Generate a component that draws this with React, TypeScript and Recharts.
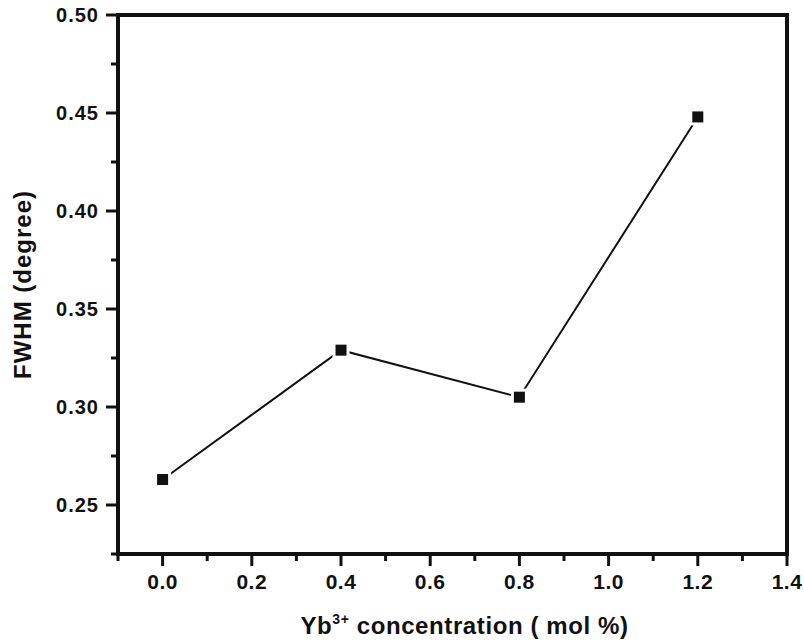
import React from 'react';
import { LineChart, Line, XAxis, YAxis, ReferenceArea, Label } from 'recharts';

// Yb3+ concentration (mol %) vs FWHM (degree)
const concentration = [0.0, 0.4, 0.8, 1.2];
const fwhm = [0.263, 0.329, 0.305, 0.448];

// major + minor ticks
const xTicks = [-0.1, 0.0, 0.1, 0.2, 0.3, 0.4, 0.5, 0.6, 0.7, 0.8, 0.9, 1.0, 1.1, 1.2, 1.3, 1.4];
const yTicks = [0.225, 0.25, 0.275, 0.3, 0.325, 0.35, 0.375, 0.4, 0.425, 0.45, 0.475, 0.5];

const data = concentration.map((c, i) => ({ x: c, y: fwhm[i] }));

const FONT = "Arial, 'Liberation Sans', sans-serif";
const INK = '#111';

const isMajor = (v: number, step: number) => Math.abs(v / step - Math.round(v / step)) < 1e-6;

const XTick = (props: any) => {
    const { x, y, payload } = props;
    const major = isMajor(payload.value, 0.2);
    return (
        <g>
            <line x1={x} y1={y} x2={x} y2={y + (major ? 12 : 7)} stroke={INK} strokeWidth={3} />
            {major && (
                <text x={x} y={y + 35} textAnchor="middle" fontSize={21} fontWeight="bold" fontFamily={FONT} fill={INK} letterSpacing={0.5}>
                    {payload.value.toFixed(1)}
                </text>
            )}
        </g>
    );
};

const YTick = (props: any) => {
    const { x, y, payload } = props;
    const major = isMajor(payload.value, 0.05);
    return (
        <g>
            <line x1={x} y1={y} x2={x - (major ? 12 : 7)} y2={y} stroke={INK} strokeWidth={3} />
            {major && (
                <text x={x - 19} y={y + 7} textAnchor="end" fontSize={20} fontWeight="bold" fontFamily={FONT} fill={INK} letterSpacing={1}>
                    {payload.value.toFixed(2)}
                </text>
            )}
        </g>
    );
};

const SquareDot = (props: any) => {
    const { cx, cy } = props;
    if (cx == null || cy == null) return null;
    return (
        <g>
            <rect x={cx - 8.5} y={cy - 8.5} width={17} height={17} fill="#fff" />
            <rect x={cx - 5.5} y={cy - 5.5} width={11} height={11} fill={INK} />
        </g>
    );
};

const XTitle = (props: any) => {
    const { viewBox } = props;
    const cx = viewBox.x + viewBox.width / 2 + 12;
    return (
        <text x={cx} y={634} textAnchor="middle" fontSize={24} fontWeight="bold" fontFamily={FONT} fill={INK} letterSpacing={0.6}>
            Yb
            <tspan fontSize={14} dy={-10}>3+</tspan>
            <tspan dy={10}> concentration ( mol %)</tspan>
        </text>
    );
};

export default function App() {
    return (
        <div style={{ position: 'absolute', left: 0, top: 0, background: '#fff' }}>
            <LineChart width={804} height={642} data={data} margin={{ top: 15, right: 17, bottom: 0, left: 18 }}>
                <XAxis
                    dataKey="x"
                    type="number"
                    domain={[-0.1, 1.4]}
                    ticks={xTicks}
                    interval={0}
                    height={88}
                    tickSize={0}
                    tickMargin={0}
                    tickLine={false}
                    axisLine={{ stroke: INK, strokeWidth: 4 }}
                    tick={<XTick />}
                    allowDataOverflow
                >
                    <Label content={<XTitle />} />
                </XAxis>
                <YAxis
                    type="number"
                    domain={[0.225, 0.5]}
                    ticks={yTicks}
                    interval={0}
                    width={100}
                    tickSize={0}
                    tickMargin={0}
                    tickLine={false}
                    axisLine={{ stroke: INK, strokeWidth: 4 }}
                    tick={<YTick />}
                    allowDataOverflow
                >
                    <Label
                        value="FWHM (degree)"
                        angle={-90}
                        position="insideLeft"
                        offset={4}
                        style={{ textAnchor: 'middle', fontSize: 24, fontWeight: 'bold', fontFamily: FONT, fill: INK, letterSpacing: 1 }}
                    />
                </YAxis>
                <ReferenceArea
                    x1={-0.1}
                    x2={1.4}
                    y1={0.225}
                    y2={0.5}
                    fill="none"
                    stroke={INK}
                    strokeWidth={4}
                    ifOverflow="visible"
                />
                <Line
                    type="linear"
                    dataKey="y"
                    stroke={INK}
                    strokeWidth={2}
                    dot={<SquareDot />}
                    activeDot={false}
                    isAnimationActive={false}
                />
            </LineChart>
        </div>
    );
}
